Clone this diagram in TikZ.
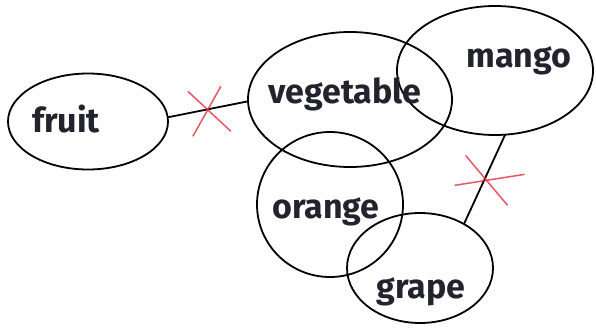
\documentclass[tikz,border=0pt]{standalone}
\usepackage{fontspec}
\setmainfont{Fira Sans}
\usetikzlibrary{shapes.geometric,calc}
\definecolor{crossred}{RGB}{225,45,60}
\definecolor{txt}{RGB}{35,35,45}
\begin{document}
\begin{tikzpicture}[x=1pt,y=-1pt,
  blob/.style={ellipse,draw=black,line width=1.8pt,inner sep=0pt,outer sep=0pt},
  lbl/.style={anchor=base,inner sep=0pt,text=txt,font=\fontsize{34}{40}\selectfont\bfseries},
  link/.style={draw=black,line width=1.8pt},
  cross/.style={draw=crossred,line width=1.5pt,opacity=0.8}]
\useasboundingbox (0,0) rectangle (596,332);
\node[blob,minimum width=160pt,minimum height=96pt] (fruit) at (88,121.5) {};
\node[blob,minimum width=204pt,minimum height=135pt] (veg) at (350,99.5) {};
\node[blob,minimum width=196pt,minimum height=129pt] (mango) at (495,70.5) {};
\node[blob,minimum width=146pt,minimum height=145pt] (orange) at (330,204.5) {};
\node[blob,minimum width=146pt,minimum height=110pt] (grape) at (420,268) {};
\node[lbl] (tfruit) at (66,132) {fruit};
\node[lbl] (tveg) at (345,103) {vegetable};
\node[lbl] (tmango) at (519,67) {mango};
\node[lbl] (torange) at (326,218) {orange};
\node[lbl] (tgrape) at (421,298) {grape};
\draw[link] (fruit.3.2) -- (veg.181.4) coordinate[pos=0.5] (x1);
\draw[link] (grape.45) -- (mango.-81.2) coordinate[pos=0.5] (x2);
\draw[cross] ($(x1)+(-20,-18)$) -- ($(x1)+(23,22)$);
\draw[cross] ($(x1)+(13,-23)$) -- ($(x1)+(-15,27)$);
\draw[cross] ($(x2)+(-19,-24)$) -- ($(x2)+(23,26)$);
\draw[cross] ($(x2)+(-30,6)$) -- ($(x2)+(40,-5)$);
\end{tikzpicture}
\end{document}
